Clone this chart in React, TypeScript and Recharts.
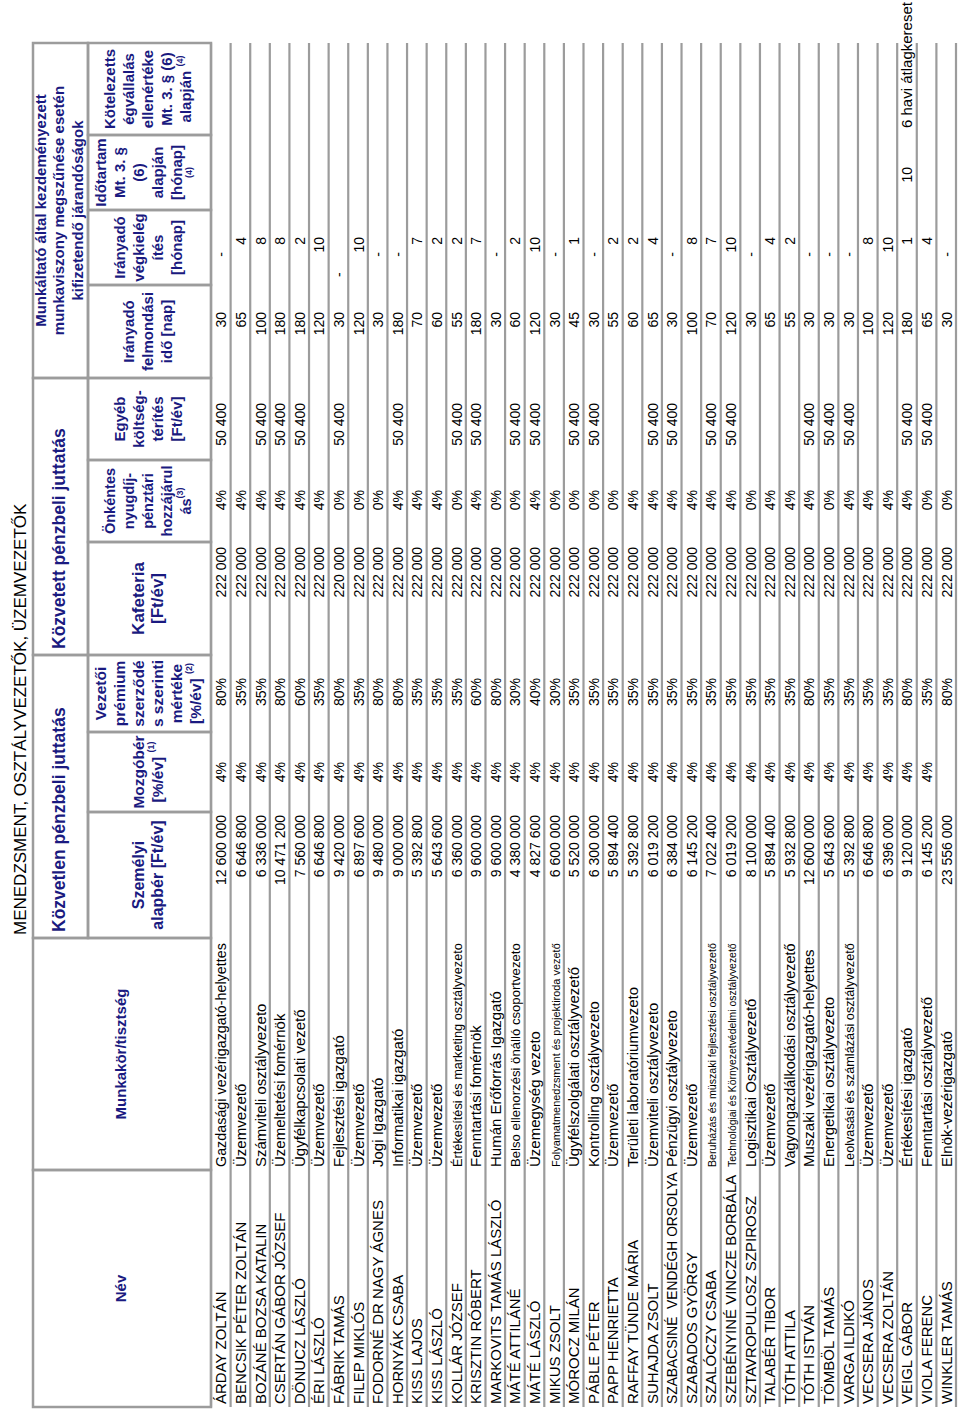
import React from 'react';
import { ScatterChart, Scatter, XAxis, YAxis, CartesianGrid, Customized } from 'recharts';

const FONT = '"Liberation Sans", Arial, sans-serif';
const NAVY = '#1a1a80';
const LINE = '#9c9c9c';

// row data, one entry per employee
const names = [
  'ÁRDAY ZOLTÁN', 'BENCSIK PÉTER ZOLTÁN', 'BOZÁNÉ BOZSA KATALIN', 'CSERTÁN GÁBOR JÓZSEF', 'DÖNUCZ LÁSZLÓ',
  'ÉRI LÁSZLÓ', 'FÁBRIK TAMÁS', 'FILEP MIKLÓS', 'FODORNÉ DR NAGY ÁGNES', 'HORNYÁK CSABA',
  'KISS LAJOS', 'KISS LÁSZLÓ', 'KOLLÁR JÓZSEF', 'KRISZTIN RÓBERT', 'MARKOVITS TAMÁS LÁSZLÓ',
  'MÁTÉ ATTILÁNÉ', 'MÁTÉ LÁSZLÓ', 'MIKUS ZSOLT', 'MÓROCZ MILÁN', 'PÁBLE PÉTER',
  'PAPP HENRIETTA', 'RAFFAY TÜNDE MÁRIA', 'SUHAJDA ZSOLT', 'SZABACSINÉ  VENDÉGH ORSOLYA', 'SZABADOS GYÖRGY',
  'SZALÓCZY CSABA', 'SZEBÉNYINÉ VINCZE BORBÁLA', 'SZTAVROPULOSZ SZPIROSZ', 'TALABÉR TIBOR', 'TÓTH ATTILA',
  'TÓTH ISTVÁN', 'TÖMBÖL TAMÁS', 'VARGA ILDIKÓ', 'VECSERA JÁNOS', 'VECSERA ZOLTÁN',
  'VEIGL GÁBOR', 'VIOLA FERENC', 'WINKLER TAMÁS',
];

const jobs = [
  'Gazdasági vezérigazgató-helyettes', 'Üzemvezető', 'Számviteli osztályvezeto', 'Üzemeltetési fomérnök',
  'Ügyfélkapcsolati vezető', 'Üzemvezető', 'Fejlesztési igazgató', 'Üzemvezető', 'Jogi Igazgató',
  'Informatikai igazgató', 'Üzemvezető', 'Üzemvezető', 'Értékesítési és marketing osztályvezeto',
  'Fenntartási fomérnök', 'Humán Erőforrás Igazgató', 'Belso ellenorzési önálló csoportvezeto',
  'Üzemegység vezeto', 'Folyamatmenedzsment és projektiroda vezető', 'Ügyfélszolgálati osztályvezető',
  'Kontrolling osztályvezeto', 'Üzemvezető', 'Területi laboratóriumvezeto', 'Üzemviteli osztályvezeto',
  'Pénzügyi osztályvezeto', 'Üzemvezető', 'Beruházás és müszaki fejlesztési osztályvezető',
  'Technológiai és Környezetvédelmi osztályvezető', 'Logisztikai Osztályvezető', 'Üzemvezető',
  'Vagyongazdálkodási osztályvezető', 'Muszaki vezérigazgató-helyettes', 'Energetikai osztályvezeto',
  'Leolvasási és számlázási osztályvezető', 'Üzemvezető', 'Üzemvezető', 'Értékesítési igazgató',
  'Fenntartási osztályvezető', 'Elnök-vezérigazgató',
];

const baseSalary = [
  12600000, 6646800, 6336000, 10471200, 7560000, 6646800, 9420000, 6897600, 9480000, 9000000,
  5392800, 5643600, 6360000, 9600000, 9600000, 4380000, 4827600, 6600000, 5520000, 6300000,
  5894400, 5392800, 6019200, 6384000, 6145200, 7022400, 6019200, 8100000, 5894400, 5932800,
  12600000, 5643600, 5392800, 6646800, 6396000, 9120000, 6145200, 23556000,
];

const variablePay = [
  4, 4, 4, 4, 4, 4, 4, 4, 4, 4, 4, 4, 4, 4, 4, 4, 4, 4, 4, 4,
  4, 4, 4, 4, 4, 4, 4, 4, 4, 4, 4, 4, 4, 4, 4, 4, 4, null,
];

const premium = [
  80, 35, 35, 80, 60, 35, 80, 35, 80, 80, 35, 35, 35, 60, 80, 30, 40, 30, 35, 35,
  35, 35, 35, 35, 35, 35, 35, 35, 35, 35, 80, 35, 35, 35, 35, 80, 35, 80,
];

const cafeteria = [
  222000, 222000, 222000, 222000, 222000, 222000, 220000, 222000, 222000, 222000,
  222000, 222000, 222000, 222000, 222000, 222000, 222000, 222000, 222000, 222000,
  222000, 222000, 222000, 222000, 222000, 222000, 222000, 222000, 222000, 222000,
  222000, 222000, 222000, 222000, 222000, 222000, 222000, 222000,
];

const pension = [
  4, 4, 4, 4, 4, 4, 0, 0, 0, 4, 4, 4, 0, 4, 0, 0, 4, 0, 0, 0,
  0, 4, 4, 4, 4, 4, 4, 0, 4, 4, 4, 0, 4, 4, 4, 4, 0, 0,
];

const otherRefund = [
  50400, null, 50400, 50400, 50400, null, 50400, null, null, 50400,
  null, null, 50400, 50400, null, 50400, 50400, null, 50400, 50400,
  null, null, 50400, 50400, null, 50400, 50400, null, null, null,
  50400, 50400, 50400, null, null, 50400, 50400, null,
];

const noticeDays = [
  30, 65, 100, 180, 180, 120, 30, 120, 30, 180, 70, 60, 55, 180, 30, 60, 120, 30, 45, 30,
  55, 60, 65, 30, 100, 70, 120, 30, 65, 55, 30, 30, 30, 100, 120, 180, 65, 30,
];

// null = accounting dash, '-' = dash typed as text
const severanceMonths: (number | null | string)[] = [
  null, 4, 8, 8, 2, 10, '-', 10, null, null, 7, 2, 2, 7, null, 2, 10, null, 1, null,
  2, 2, 4, null, 8, 7, 10, null, 4, 2, null, null, null, 8, 10, 1, 4, null,
];

const durationMonths = [
  null, null, null, null, null, null, null, null, null, null, null, null, null, null, null, null, null, null, null, null,
  null, null, null, null, null, null, null, null, null, null, null, null, null, null, null, 10, null, null,
];

const commitment = [
  null, null, null, null, null, null, null, null, null, null, null, null, null, null, null, null, null, null, null, null,
  null, null, null, null, null, null, null, null, null, null, null, null, null, null, null, '6 havi átlagkereset', null, null,
];

const money = (v: number) => String(v).replace(/\B(?=(\d{3})+(?!\d))/g, ' ');
const pct = (v: number) => `${v}%`;

let measureCtx: CanvasRenderingContext2D | null = null;
const textWidth = (t: string, fs: number, weight = 'normal') => {
  if (!measureCtx) measureCtx = document.createElement('canvas').getContext('2d');
  if (!measureCtx) return 0;
  measureCtx.font = `${weight} ${fs}px "Liberation Sans"`;
  return measureCtx.measureText(t).width;
};

// column layout (u = horizontal position in the unrotated table)
const columns: any[] = [
  { key: 'name', values: names, at: 7, anchor: 'start', fs: 15, maxW: 232 },
  { key: 'job', values: jobs, at: 244, anchor: 'start', fs: 15, maxW: 224 },
  { key: 'salary', values: baseSalary, fmt: money, at: 596, anchor: 'end' },
  { key: 'variable', values: variablePay, fmt: pct, at: 649, anchor: 'end' },
  { key: 'premium', values: premium, fmt: pct, at: 733, anchor: 'end' },
  { key: 'cafeteria', values: cafeteria, fmt: money, at: 864, anchor: 'end' },
  { key: 'pension', values: pension, fmt: pct, at: 921, anchor: 'end' },
  { key: 'other', values: otherRefund, fmt: money, at: 1008, anchor: 'end' },
  { key: 'notice', values: noticeDays, fmt: String, at: 1099, anchor: 'end' },
  { key: 'severance', values: severanceMonths, fmt: String, at: 1174, anchor: 'end', dashAt: 1159, textAt: 1134 },
  { key: 'duration', values: durationMonths, fmt: String, at: 1244, anchor: 'end' },
  { key: 'commit', values: commitment, at: 1283, anchor: 'start', fs: 15 },
];

type Line = string | [string, string];
interface HeadCell { u0: number; u1: number; v0: number; v1: number; lines: Line[]; fs: number; lh?: number; align?: 'start' }

const headCells: HeadCell[] = [
  { u0: 4, u1: 241, v0: 33, v1: 211, lines: ['Név'], fs: 15 },
  { u0: 241, u1: 473, v0: 33, v1: 211, lines: ['Munkakör/tisztség'], fs: 15 },
  { u0: 473, u1: 756, v0: 33, v1: 88, lines: ['Közvetlen pénzbeli juttatás'], fs: 17.5, align: 'start' },
  { u0: 756, u1: 1033, v0: 33, v1: 88, lines: ['Közvetett pénzbeli juttatás'], fs: 17.5, align: 'start' },
  { u0: 1033, u1: 1368, v0: 33, v1: 88, lines: ['Munkáltató által kezdeményezett', 'munkaviszony megszűnése esetén', 'kifizetendő járandóságok'], fs: 15, lh: 18.5 },
  { u0: 473, u1: 599, v0: 88, v1: 211, lines: ['Személyi', 'alapbér [Ft/év]'], fs: 16 },
  { u0: 599, u1: 679, v0: 88, v1: 211, lines: ['Mozgóbér', ['[%/év] ', '(1)']], fs: 15.5 },
  { u0: 679, u1: 756, v0: 88, v1: 211, lines: ['Vezetői', 'prémium', 'szerződé', 's szerinti', 'mértéke', ['[%/év] ', '(2)']], fs: 15.5 },
  { u0: 756, u1: 869, v0: 88, v1: 211, lines: ['Kafeteria', '[Ft/év]'], fs: 17 },
  { u0: 869, u1: 951, v0: 88, v1: 211, lines: ['Önkéntes', 'nyugdíj-', 'pénztári', 'hozzájárul', ['ás', '(3)']], fs: 14.5 },
  { u0: 951, u1: 1033, v0: 88, v1: 211, lines: ['Egyéb', 'költség-', 'térítés', '[Ft/év]'], fs: 15 },
  { u0: 1033, u1: 1126, v0: 88, v1: 211, lines: ['Irányadó', 'felmondási', 'idő [nap]'], fs: 15 },
  { u0: 1126, u1: 1201, v0: 88, v1: 211, lines: ['Irányadó', 'végkielég', 'ítés', '[hónap]'], fs: 15 },
  { u0: 1201, u1: 1276, v0: 88, v1: 211, lines: ['Időtartam', 'Mt. 3. §', '(6)', 'alapján', '[hónap]', ['', '(4)']], fs: 15 },
  { u0: 1276, u1: 1368, v0: 88, v1: 211, lines: ['Kötelezetts', 'égvállalás', 'ellenértéke', 'Mt. 3. § (6)', ['alapján ', '(4)']], fs: 15 },
];

const rowTicks = names.map((_, i) => i).concat(names.length);

const TableHeader = () => (
  <g>
    <text x={476} y={26} fontSize={17} fontFamily={FONT} fill="#000">
      MENEDZSMENT, OSZTÁLYVEZETŐK, ÜZEMVEZETŐK
    </text>
    {headCells.map((c, i) => {
      const lh = c.lh ?? 19;
      const cy = (c.v0 + c.v1) / 2 - 2 - ((c.lines.length - 1) * lh) / 2;
      const x = c.align === 'start' ? c.u0 + 6 : (c.u0 + c.u1) / 2;
      return (
        <g key={i}>
          <rect x={c.u0} y={c.v0} width={c.u1 - c.u0} height={c.v1 - c.v0} fill="none" stroke={LINE} strokeWidth={2.5} />
          {c.lines.map((ln, j) => (
            <text
              key={j}
              x={x}
              y={cy + j * lh}
              textAnchor={c.align === 'start' ? 'start' : 'middle'}
              dominantBaseline="central"
              fontSize={c.fs}
              fontWeight="bold"
              fontFamily={FONT}
              fill={NAVY}
            >
              {typeof ln === 'string' ? ln : (
                <>
                  {ln[0]}
                  <tspan fontSize={9} dy={-6}>{ln[1]}</tspan>
                </>
              )}
            </text>
          ))}
        </g>
      );
    })}
  </g>
);

const CellText = (props: any) => {
  const { cx, cy, payload } = props;
  if (cx == null || cy == null) return null;
  return (
    <text
      x={cx}
      y={cy + 5.5}
      textAnchor={payload.anchor}
      fontSize={payload.fs}
      fontFamily={FONT}
      fill="#000"
      style={{ whiteSpace: 'pre' }}
    >
      {payload.label}
    </text>
  );
};

const buildCells = (col: any) =>
  col.values
    .map((v: any, i: number) => {
      let label = '';
      let at = col.at;
      let anchor = col.anchor;
      if (col.key === 'severance' && v === null) {
        label = '-';
        at = col.dashAt;
      } else if (typeof v === 'string' && col.textAt && v === '-') {
        label = v;
        at = col.textAt;
        anchor = 'start';
      } else if (v !== null && v !== undefined) {
        label = col.fmt && typeof v === 'number' ? col.fmt(v) : String(v);
      }
      const base = col.fs ?? 14;
      const fs = col.maxW ? Math.min(base, (base * col.maxW) / Math.max(1, textWidth(label, base))) : base;
      return { x: at, y: i + 0.5, label, anchor, fs };
    })
    .filter((d: any) => d.label !== '');

export default function App() {
  return (
    <div style={{ position: 'absolute', left: 0, top: 0, width: 960, height: 1411, overflow: 'hidden', background: '#fff' }}>
      <div
        style={{
          position: 'absolute',
          left: 0,
          top: 0,
          width: 1411,
          height: 960,
          transformOrigin: '0 0',
          transform: 'translate(0px, 1411px) rotate(-90deg)',
        }}
      >
        <ScatterChart width={1411} height={960} margin={{ top: 211, right: 43, bottom: 4, left: 4 }}>
          <CartesianGrid vertical={false} stroke={LINE} strokeWidth={2.2} />
          <XAxis type="number" dataKey="x" domain={[4, 1368]} hide />
          <YAxis type="number" dataKey="y" domain={[0, names.length]} ticks={rowTicks} interval={0} reversed hide />
          {columns.map((col) => (
            <Scatter
              key={col.key}
              data={buildCells(col)}
              shape={<CellText />}
              isAnimationActive={false}
            />
          ))}
          <Customized component={<TableHeader />} />
        </ScatterChart>
      </div>
    </div>
  );
}
